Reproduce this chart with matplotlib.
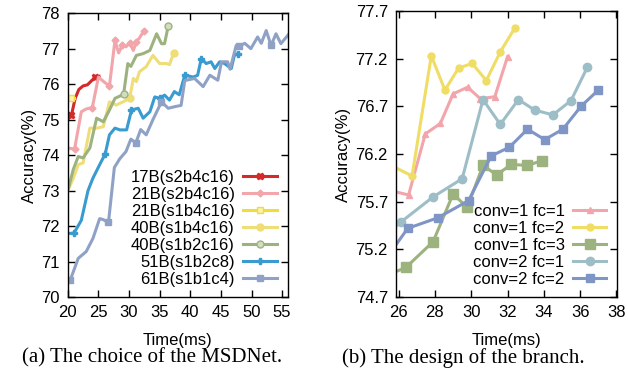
import matplotlib
matplotlib.use('Agg')
import matplotlib.pyplot as plt

plt.rcParams['font.family'] = ['Liberation Sans', 'DejaVu Sans']

# (a) tiempos y precisiones de cada MSDNet
red_x = [20.0, 20.6, 21.2, 21.8, 22.5, 23.2, 23.9, 24.5, 25.1]
red_y = [75.0, 75.13, 75.6, 75.85, 75.95, 75.98, 76.1, 76.2, 76.22]

pink_x = [20.0, 21.1, 22.2, 23.0, 24.0, 25.0, 26.0, 26.8, 27.7, 28.3, 28.9, 29.5, 30.1, 30.7, 31.2, 31.7, 32.4]
pink_y = [74.2, 74.17, 75.22, 75.3, 75.34, 76.2, 76.05, 75.95, 77.23, 76.88, 77.1, 77.05, 77.17, 76.95, 77.2, 77.3, 77.5]

yel1_x = [20.0, 20.5, 21.0]
yel1_y = [75.6, 75.6, 75.6]

yel2_x = [20.0, 20.9, 21.7, 22.5, 23.6, 24.7, 25.8, 26.8, 27.9, 29.0, 30.1, 30.7, 31.2, 31.7, 32.8, 33.9, 35.0, 36.1, 36.6, 37.3]
yel2_y = [73.0, 73.35, 73.73, 73.78, 74.76, 74.76, 74.8, 75.5, 75.41, 75.5, 75.6, 76.16, 76.07, 76.35, 76.49, 76.81, 76.58, 76.58, 76.55, 76.88]

green_x = [20.0, 20.9, 21.7, 22.5, 23.6, 24.7, 25.8, 26.8, 27.7, 29.1, 29.8, 30.3, 31.2, 32.3, 33.4, 34.5, 35.3, 35.8, 36.4]
green_y = [73.0, 73.6, 73.96, 73.92, 74.2, 75.04, 74.94, 75.27, 75.6, 75.71, 76.58, 76.5, 76.81, 76.86, 76.95, 77.42, 77.14, 77.14, 77.64]

blue_x = [20.0, 21.0, 22.2, 23.3, 24.1, 25.2, 26.1, 26.8, 27.7, 28.5, 29.6, 30.4, 31.5, 32.3, 33.4, 34.2, 35.0, 35.8, 36.6, 37.4,
          38.2, 39.1, 40.5, 41.2, 41.8, 42.6, 43.4, 44.0, 44.8, 45.6, 46.7, 47.2, 47.8]
blue_y = [71.79, 71.8, 72.16, 73.0, 73.35, 73.73, 74.03, 74.57, 74.76, 74.71, 74.71, 75.27, 75.32, 75.04, 75.22, 75.64, 75.6, 75.69,
          75.55, 75.79, 75.7, 76.25, 76.2, 76.25, 76.72, 76.58, 76.63, 76.44, 76.63, 76.58, 76.44, 76.81, 76.86]

gray_x = [20.0, 20.4, 21.7, 23.0, 24.1, 25.2, 25.8, 26.5, 26.7, 27.6, 28.5, 29.5, 30.3, 31.1, 31.9, 32.8, 33.9, 35.3, 36.4, 37.6,
          38.5, 39.1, 40.7, 42.1, 43.2, 44.5, 45.1, 46.1, 46.5, 47.5, 48.0, 48.9, 49.9, 51.0, 51.6, 52.4, 53.2, 54.0, 54.8, 56.0]
gray_y = [70.44, 70.48, 71.09, 71.28, 71.65, 72.21, 72.18, 72.11, 72.2, 73.65, 73.9, 74.1, 74.45, 74.34, 74.72, 74.57, 75.0, 75.5,
          75.32, 75.37, 75.4, 76.1, 76.16, 75.93, 76.25, 76.11, 76.63, 76.63, 76.42, 77.09, 77.07, 77.15, 77.0, 77.33, 77.15, 77.51,
          77.09, 77.42, 77.14, 77.39]

# (b) disenos de la rama
r_pink_x = [25.9, 26.55, 27.47, 28.3, 29.0, 29.8, 30.5, 31.3, 32.0]
r_pink_y = [75.80, 75.77, 76.41, 76.52, 76.83, 76.9, 76.78, 76.8, 77.22]
r_yel_x = [25.9, 26.74, 27.8, 28.55, 29.3, 30.05, 30.83, 31.6, 32.4]
r_yel_y = [76.05, 75.97, 77.23, 76.87, 77.1, 77.15, 76.97, 77.27, 77.52]
r_green_x = [25.9, 26.4, 27.9, 29.0, 29.78, 30.65, 31.4, 32.2, 33.1, 33.9]
r_green_y = [74.97, 75.01, 75.28, 75.78, 75.64, 76.08, 75.98, 76.09, 76.08, 76.13]
r_teal_x = [25.9, 26.15, 27.9, 29.5, 30.65, 31.6, 32.6, 33.5, 34.5, 35.5, 36.4]
r_teal_y = [75.45, 75.49, 75.75, 75.94, 76.77, 76.51, 76.77, 76.66, 76.61, 76.76, 77.11]
r_blue_x = [25.9, 26.5, 28.15, 29.85, 31.1, 32.1, 33.1, 34.05, 35.05, 36.05, 37.0]
r_blue_y = [75.26, 75.42, 75.53, 75.71, 76.18, 76.27, 76.46, 76.35, 76.46, 76.70, 76.87]

fig = plt.figure(figsize=(6.28, 3.72), dpi=100)
ax1 = fig.add_axes([0.108, 0.2016, 0.350, 0.763])
ax2 = fig.add_axes([0.631, 0.2016, 0.352, 0.769])

lw = 2.2
ax1.plot(red_x, red_y, color='#d42a2a', lw=lw, marker='X', ms=5, markevery=[1, 7], label='17B(s2b4c16)')
ax1.plot(pink_x, pink_y, color='#f2a5aa', lw=lw, marker='D', ms=3.5, markevery=[1, 4, 7, 8, 10, 12, 14, 16], label='21B(s2b4c16)')
ax1.plot(yel1_x, yel1_y, color='#f0dc3a', lw=lw, marker='s', ms=4.5, mfc='#fbf3b0', markevery=[1], label='21B(s1b4c16)')
ax1.plot(yel2_x, yel2_y, color='#efdd78', lw=lw, marker='o', ms=5, markevery=[10, 19], label='40B(s1b4c16)')
ax1.plot(green_x, green_y, color='#9db37f', lw=lw, marker='o', ms=5, mfc='#d2dcc0', markevery=[9, 18], label='40B(s1b2c16)')
ax1.plot(blue_x, blue_y, color='#3a9bd0', lw=lw, marker='P', ms=5, markevery=[1, 6, 11, 16, 21, 24, 32], label='51B(s1b2c8)')
ax1.plot(gray_x, gray_y, color='#8fa2c6', lw=lw, marker='s', ms=4.5, markevery=[1, 7, 13, 17, 30, 36], label='61B(s1b1c4)')

ax2.plot(r_pink_x, r_pink_y, color='#f2a5aa', lw=lw, marker='^', ms=5, markevery=slice(1, None), label='conv=1 fc=1')
ax2.plot(r_yel_x, r_yel_y, color='#efdd66', lw=lw, marker='o', ms=5, markevery=slice(1, None), label='conv=1 fc=2')
ax2.plot(r_green_x, r_green_y, color='#9db37f', lw=lw, marker='s', ms=7, markevery=slice(1, None), label='conv=1 fc=3')
ax2.plot(r_teal_x, r_teal_y, color='#9dbec7', lw=lw, marker='o', ms=6, markevery=slice(1, None), label='conv=2 fc=1')
ax2.plot(r_blue_x, r_blue_y, color='#7f95c6', lw=lw, marker='s', ms=6, markevery=slice(1, None), label='conv=2 fc=2')

ax1.set_xlim(20, 55.9)
ax1.set_ylim(70, 78)
ax1.set_xticks(range(20, 56, 5))
ax1.set_yticks(range(70, 79))
ax2.set_xlim(25.87, 38.05)
ax2.set_ylim(74.7, 77.7)
ax2.set_xticks(range(26, 39, 2))
ax2.set_yticks([74.7, 75.2, 75.7, 76.2, 76.7, 77.2, 77.7])
ax2.set_yticklabels(['74.7', '75.2', '75.7', '76.2', '76.7', '77.2', '77.7'])

for ax in (ax1, ax2):
    ax.tick_params(direction='in', top=True, right=True, length=5, width=1, labelsize=12, pad=6)
    for s in ax.spines.values():
        s.set_linewidth(1)
    ax.set_xlabel('Time(ms)', fontsize=12, labelpad=9)
    ax.set_ylabel('Accuracy(%)', fontsize=12, labelpad=3)
    ax.legend(loc='lower right', bbox_to_anchor=(0.995, 0.0), frameon=False, markerfirst=False,
              fontsize=12, handlelength=2.0, handletextpad=0.5, labelspacing=0.12, borderaxespad=0.2)

fig.text(0.242, 0.025, '(a) The choice of the MSDNet.', ha='center', fontsize=15, family='Liberation Serif')
fig.text(0.738, 0.025, '(b) The design of the branch.', ha='center', fontsize=15, family='Liberation Serif')

fig.savefig('out.png', dpi=100)
